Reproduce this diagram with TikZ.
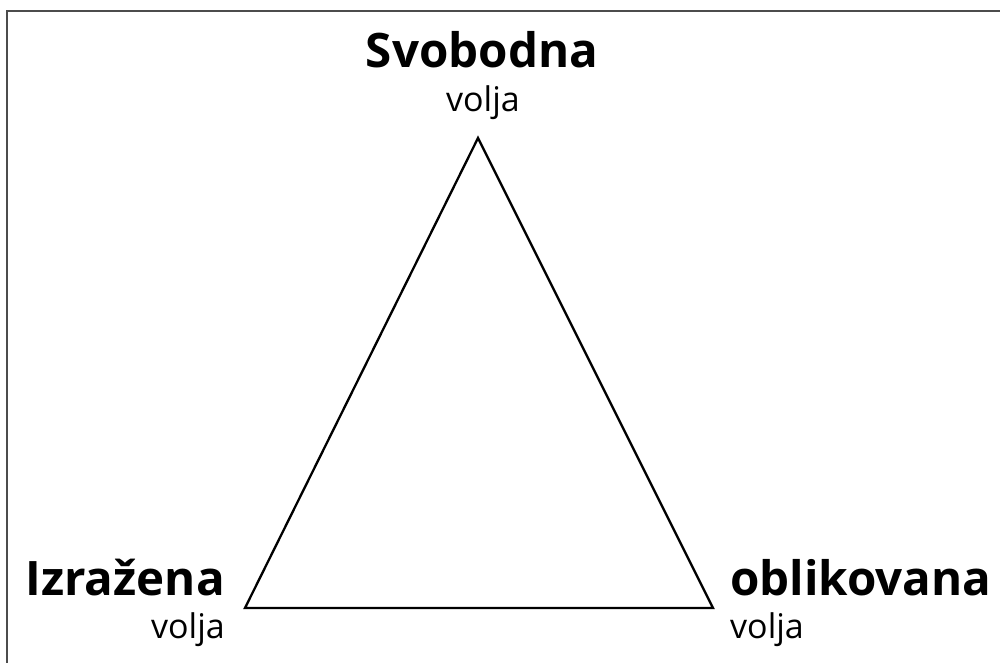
\documentclass[tikz,border=0pt]{standalone}
\usepackage{fontspec}
\setmainfont{Open Sans}
\begin{document}
\begin{tikzpicture}[x=1pt,y=-1pt,
  title/.style={font=\fontsize{47.5}{50}\selectfont\bfseries, inner sep=0pt},
  sub/.style={font=\fontsize{34}{36}\selectfont, inner sep=0pt},
  edge/.style={line width=2.3pt, black, line join=miter}]
\useasboundingbox (0,0) rectangle (1000,663);
\draw[line width=2.2pt, black!70] (7,663) -- (7,11) -- (1000,11);
\coordinate (A) at (478,138);
\coordinate (B) at (245,608);
\coordinate (C) at (713,608);
\draw[edge] (A) -- (B) -- (C) -- cycle;
\node[title, anchor=base] (t1) at (482,68) {Svobodna};
\node[sub, anchor=base] (s1) at (483,112) {volja};
\node[title, anchor=base east] (t2) at (225,595) {Izražena};
\node[sub, anchor=base east] (s2) at (225,638) {volja};
\node[title, anchor=base west] (t3) at (730,595) {oblikovana};
\node[sub, anchor=base west] (s3) at (730,638) {volja};
\end{tikzpicture}
\end{document}
